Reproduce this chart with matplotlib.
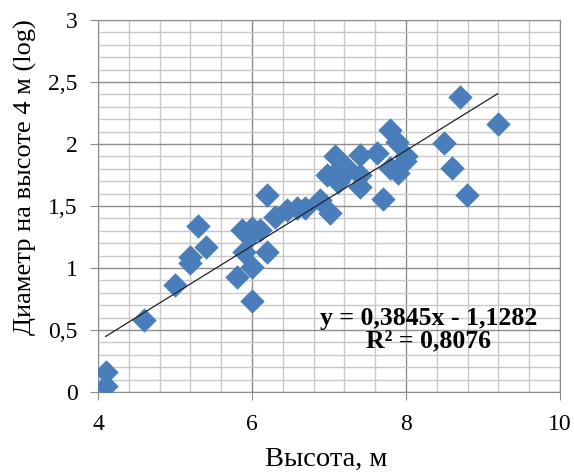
import matplotlib
matplotlib.use("Agg")
import matplotlib.pyplot as plt
from matplotlib.ticker import MultipleLocator, FuncFormatter
import numpy as np

# Data (height in m, log diameter at 4 m)
height = [4.10, 4.10, 4.60, 5.00, 5.19, 5.19, 5.30, 5.40, 5.80, 5.90,
          5.87, 6.00, 6.10, 5.97, 6.00, 6.00, 6.20, 6.20, 6.30, 6.45,
          6.58, 6.69, 6.88, 7.01, 6.97, 7.05, 7.12, 7.18, 7.23, 7.08,
          7.40, 7.40, 7.40, 7.62, 7.70, 7.79, 7.88, 7.79, 7.90, 8.00,
          7.99, 8.50, 8.60, 8.70, 8.79, 9.19]
diam_log = [0.16, 0.05, 0.58, 0.86, 1.09, 1.04, 1.34, 1.17, 0.93, 1.13,
            1.31, 1.32, 1.31, 1.27, 1.01, 0.73, 1.13, 1.59, 1.41, 1.47,
            1.48, 1.48, 1.55, 1.44, 1.75, 1.75, 1.69, 1.75, 1.81, 1.90,
            1.91, 1.75, 1.65, 1.93, 1.56, 2.11, 2.02, 1.81, 1.77, 1.90,
            1.86, 2.01, 1.81, 2.38, 1.59, 2.16]

slope = 0.3845
intercept = -1.1282
r2 = 0.8076

x_label = "Высота, м"
y_label = "Диаметр на высоте 4 м (log)"

plt.rcParams['font.family'] = ['Liberation Serif', 'DejaVu Serif']

fig = plt.figure(figsize=(5.74, 4.74), dpi=100)
ax = fig.add_axes([0.1707, 0.173, 0.8049, 0.7848])

ax.set_xlim(4, 10)
ax.set_ylim(0, 3)
ax.xaxis.set_major_locator(MultipleLocator(2))
ax.xaxis.set_minor_locator(MultipleLocator(0.4))
ax.yaxis.set_major_locator(MultipleLocator(0.5))
ax.yaxis.set_minor_locator(MultipleLocator(0.1))

fmt = FuncFormatter(lambda v, p: ('%g' % v).replace('.', ','))
ax.xaxis.set_major_formatter(fmt)
ax.yaxis.set_major_formatter(fmt)

ax.grid(which='minor', color='#c8c8c8', linewidth=1.0)
ax.grid(which='major', color='#8c8c8c', linewidth=1.0)
ax.set_axisbelow(True)

ax.tick_params(which='minor', length=0)
ax.tick_params(which='major', length=5.5, color='#8c8c8c', labelsize=17)
ax.tick_params(axis='x', which='major', pad=10)
ax.tick_params(axis='y', which='major', pad=9)
for side in ['left', 'bottom', 'top', 'right']:
    ax.spines[side].set_color('#8c8c8c')

ax.scatter(height, diam_log, marker='D', s=155, color='#4A7EBB', zorder=3,
           linewidths=0)

xs = np.array([min(height), max(height)])
ax.plot(xs, slope * xs + intercept, color='#222222', linewidth=0.9, zorder=4)

eq = ("y = %.4fx - %.4f" % (slope, -intercept)).replace('.', ',')
r2t = ("R² = %.4f" % r2).replace('.', ',')
ax.text(8.29, 0.50, eq + "\n" + r2t, ha='center', va='center',
        fontsize=18.5, fontweight='bold', linespacing=0.97, zorder=5)

ax.set_xlabel(x_label, fontsize=20.5)
ax.xaxis.set_label_coords(0.4935, -0.198)
ax.xaxis.label.set_va('baseline')
ax.set_ylabel(y_label, fontsize=19)
ax.yaxis.set_label_coords(-0.132, 0.577)

fig.savefig("out.png", dpi=100)
